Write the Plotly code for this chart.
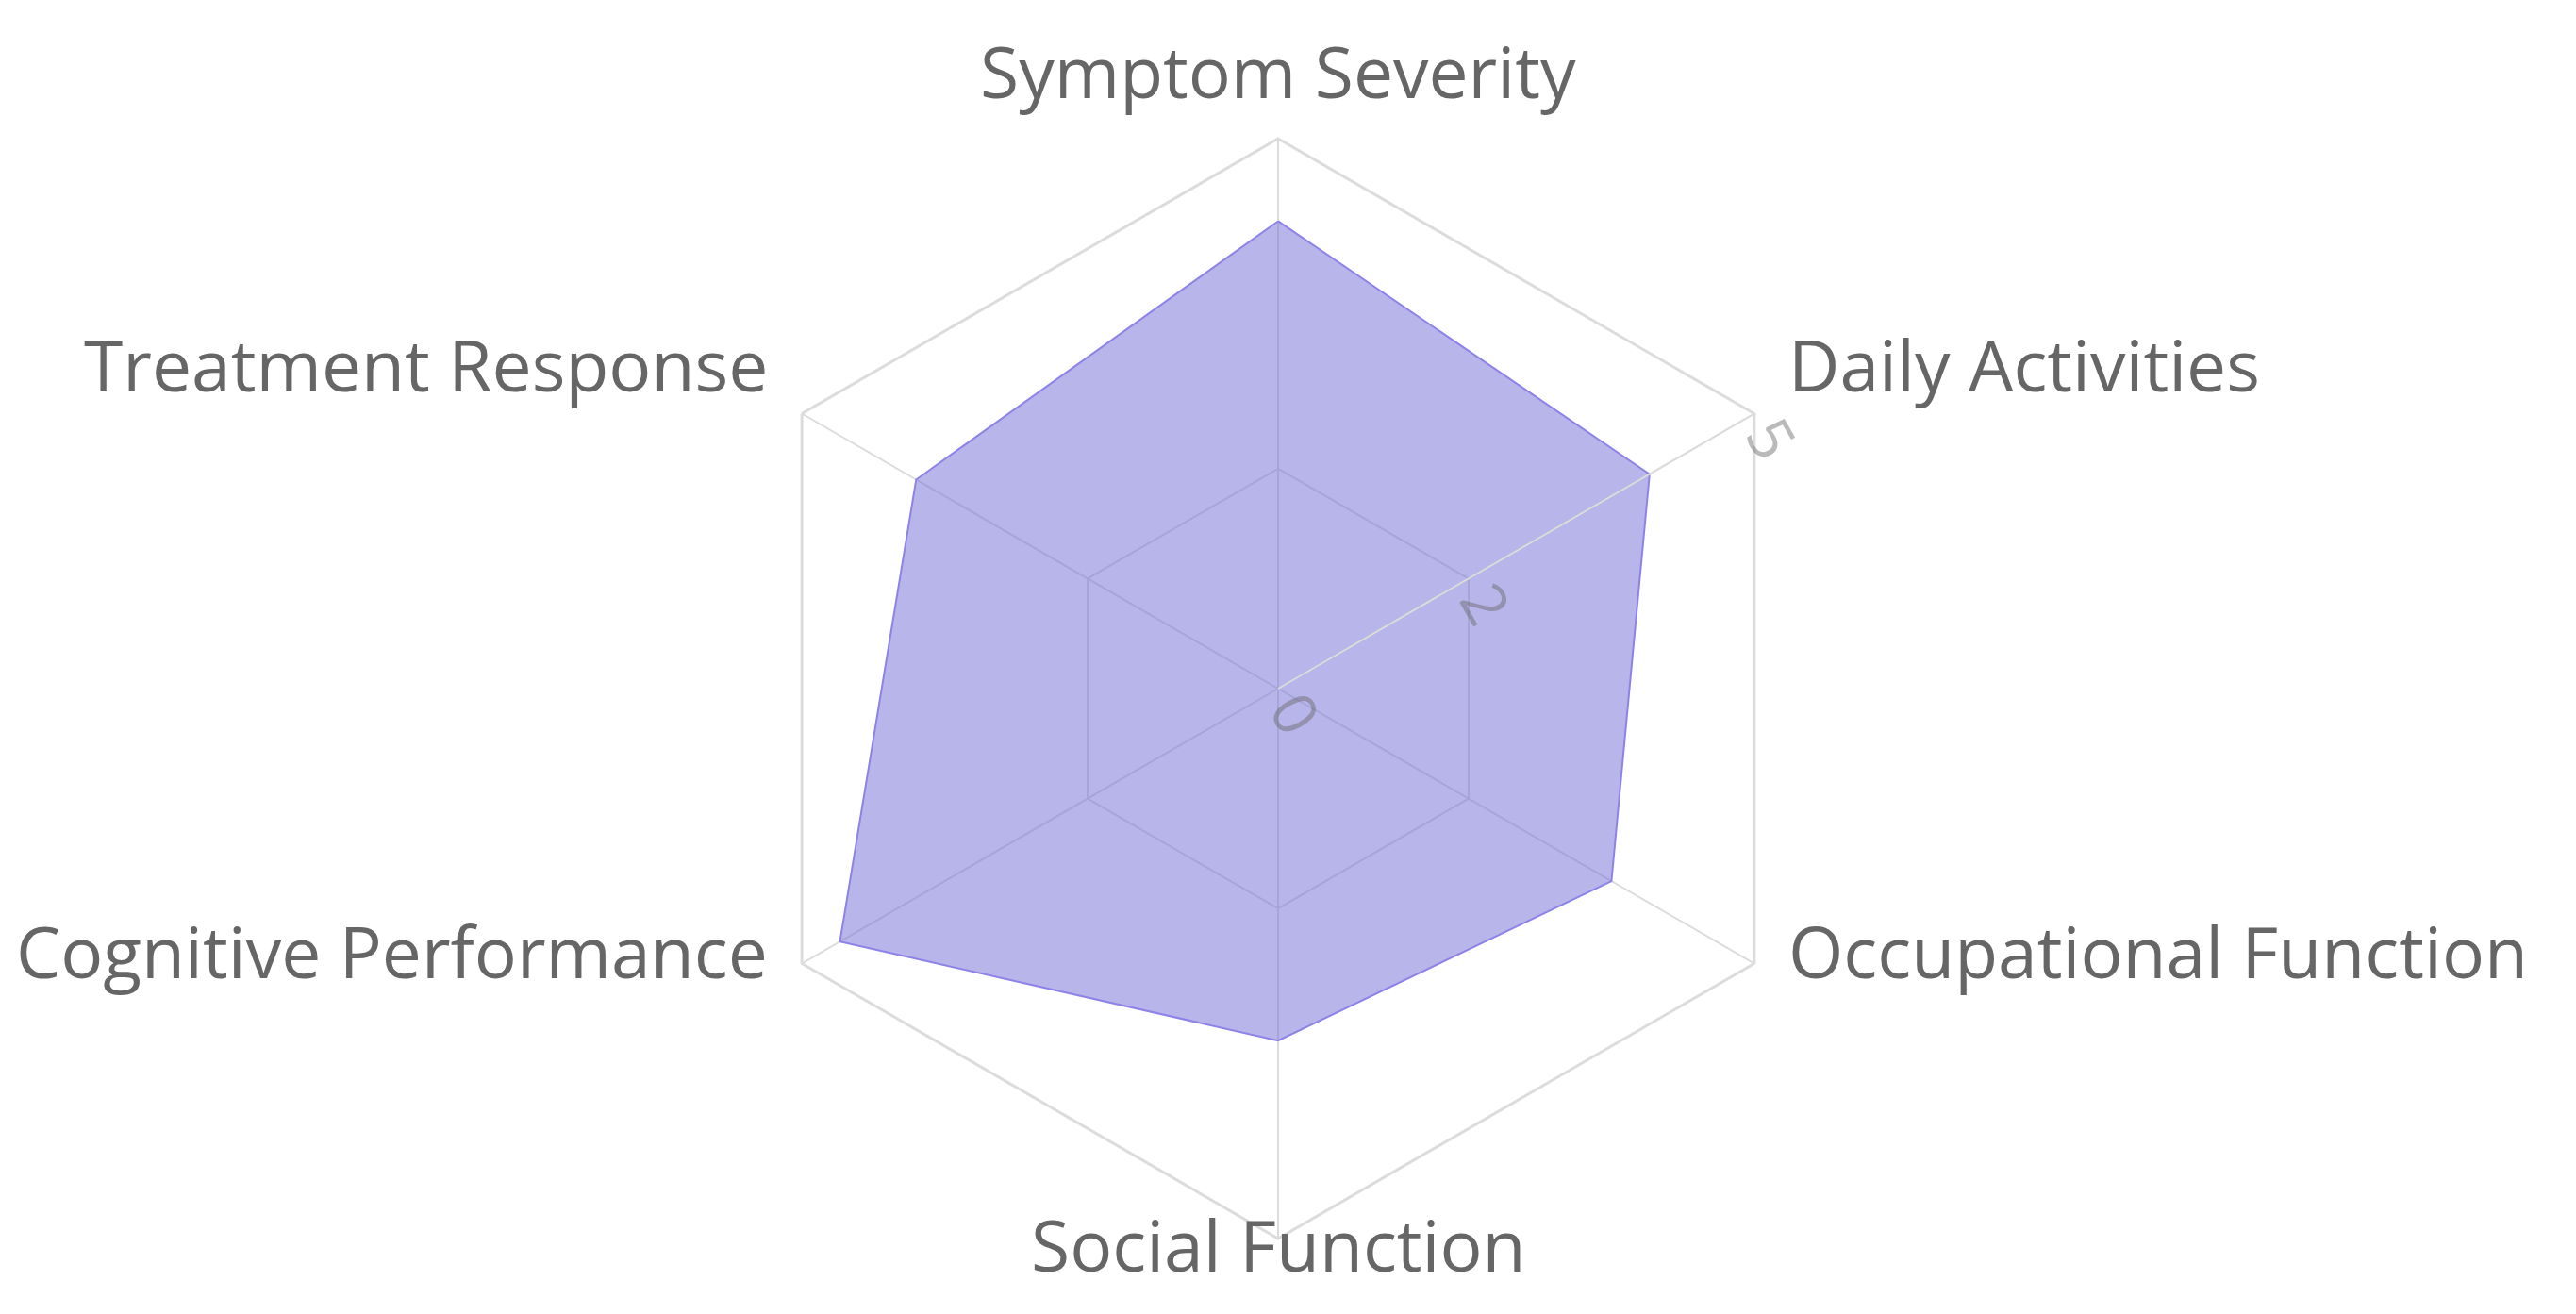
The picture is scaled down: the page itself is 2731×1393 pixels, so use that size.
import math
import plotly.graph_objects as go

# axis categories, clockwise from the top
dimensions = [
    "Symptom Severity",
    "Daily Activities",
    "Occupational Function",
    "Social Function",
    "Cognitive Performance",
    "Treatment Response",
]
scores = [4.25, 3.9, 3.5, 3.2, 4.6, 3.8]
radial_ticks = [0, 2, 5]

W, H = 2731, 1393
cx, cy, R = 1347, 722, 583  # polar centre and radius in px (from top-left)
grid = "#dcdcdc"
label_font = dict(family="Open Sans, Noto Sans, sans-serif", size=75, color="#666666")

fig = go.Figure()
fig.add_trace(
    go.Scatterpolar(
        r=scores + scores[:1],
        theta=dimensions + dimensions[:1],
        mode="lines",
        fill="toself",
        fillcolor="rgba(113,108,213,0.5)",
        line=dict(color="rgb(140,130,232)", width=2),
        hoverinfo="skip",
        showlegend=False,
    )
)

# category labels sit just outside each vertex (baseline style), so the
# bottom one overlaps the hexagon tip like in the original
pad, lift = 39, 33
annotations = []
for i, name in enumerate(dimensions):
    a = math.radians(90 - 60 * i)
    px = cx + (R + pad) * math.cos(a)
    py = cy - (R + pad) * math.sin(a) - lift
    c = math.cos(a)
    anchor = "left" if c > 0.1 else ("right" if c < -0.1 else "center")
    annotations.append(
        dict(
            text=name,
            x=px / W,
            y=1 - py / H,
            xref="paper",
            yref="paper",
            xanchor=anchor,
            yanchor="middle",
            showarrow=False,
            font=label_font,
        )
    )

fig.update_layout(
    width=W,
    height=H,
    margin=dict(l=0, r=0, t=0, b=0),
    paper_bgcolor="white",
    font=label_font,
    annotations=annotations,
    polar=dict(
        domain=dict(
            x=[(cx - R) / W, (cx + R) / W],
            y=[1 - (cy + R) / H, 1 - (cy - R) / H],
        ),
        bgcolor="white",
        gridshape="linear",
        angularaxis=dict(
            rotation=90,
            direction="clockwise",
            showline=True,
            linecolor=grid,
            linewidth=3,
            gridcolor=grid,
            gridwidth=2,
            ticks="",
            showticklabels=False,
        ),
        radialaxis=dict(
            range=[0, 5],
            tickvals=radial_ticks,
            angle=30,
            tickangle=90,
            showline=True,
            linecolor=grid,
            linewidth=2,
            gridcolor=grid,
            gridwidth=2,
            ticks="",
            tickfont=dict(
                family="Open Sans, Noto Sans, sans-serif",
                size=64,
                color="rgba(102,102,102,0.45)",
            ),
        ),
    ),
)

# pull the radial tick labels closer to the axis line if supported
try:
    fig.update_layout(polar_radialaxis_ticklabelstandoff=-30)
except ValueError:
    pass

fig.write_html("out.html")
